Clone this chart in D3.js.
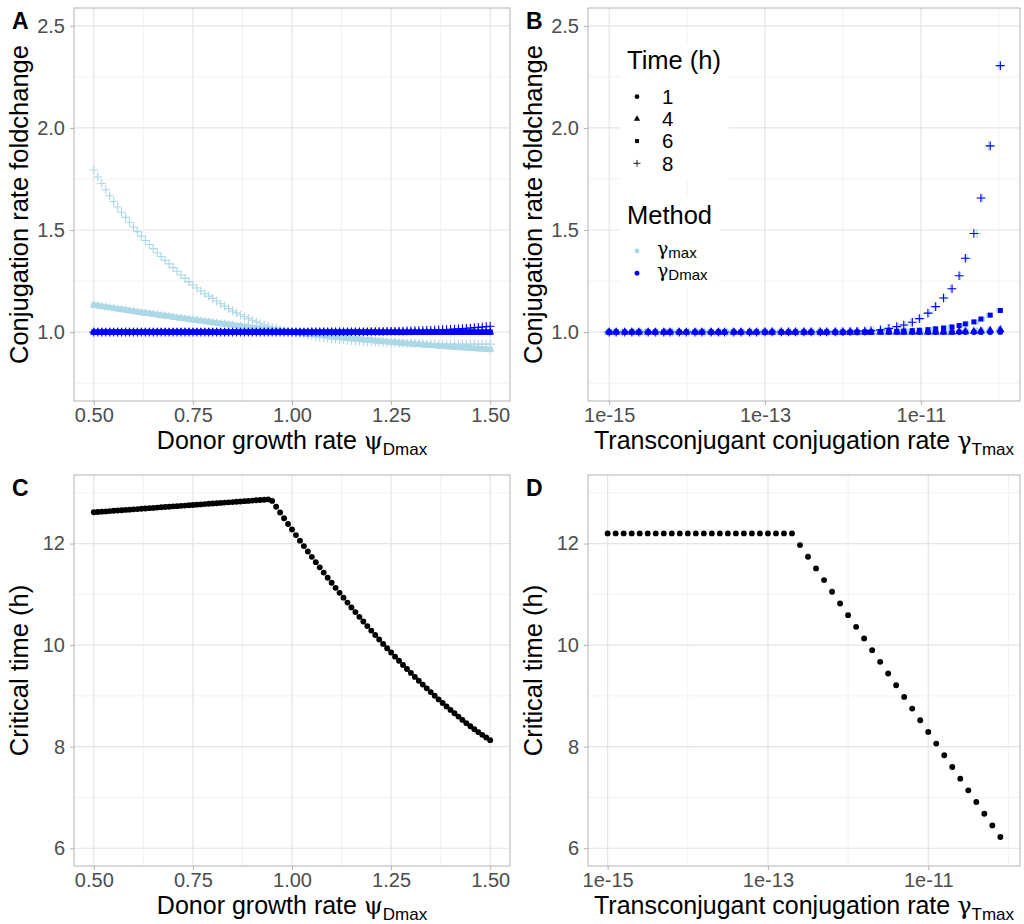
<!DOCTYPE html>
<html>
<head>
<meta charset="utf-8">
<script src="https://cdn.jsdelivr.net/npm/d3@7"></script>
<style>
  body { margin: 0; background: #fff; }
  svg { display: block; }
</style>
</head>
<body>
<svg id="fig" width="1024" height="924"></svg>
<script>
// ---------------- data ----------------
// Donor growth rate grid (panels A and C)
const psiDmax = [
  0.50,0.51,0.52,0.53,0.54,0.55,0.56,0.57,0.58,0.59,
  0.60,0.61,0.62,0.63,0.64,0.65,0.66,0.67,0.68,0.69,
  0.70,0.71,0.72,0.73,0.74,0.75,0.76,0.77,0.78,0.79,
  0.80,0.81,0.82,0.83,0.84,0.85,0.86,0.87,0.88,0.89,
  0.90,0.91,0.92,0.93,0.94,0.95,0.96,0.97,0.98,0.99,
  1.00,1.01,1.02,1.03,1.04,1.05,1.06,1.07,1.08,1.09,
  1.10,1.11,1.12,1.13,1.14,1.15,1.16,1.17,1.18,1.19,
  1.20,1.21,1.22,1.23,1.24,1.25,1.26,1.27,1.28,1.29,
  1.30,1.31,1.32,1.33,1.34,1.35,1.36,1.37,1.38,1.39,
  1.40,1.41,1.42,1.43,1.44,1.45,1.46,1.47,1.48,1.49,
  1.50];

// Panel A: foldchange, gamma_max method, early times (1, 4, 6 h coincide)
const foldA_max_early = [
  1.132,1.129,1.126,1.123,1.120,1.117,1.114,1.111,1.108,1.105,
  1.102,1.099,1.096,1.093,1.091,1.088,1.085,1.082,1.079,1.077,
  1.074,1.071,1.068,1.066,1.063,1.060,1.058,1.055,1.052,1.050,
  1.047,1.045,1.042,1.040,1.037,1.035,1.032,1.030,1.027,1.025,
  1.022,1.020,1.018,1.015,1.013,1.011,1.009,1.007,1.004,1.002,
  1.000,0.998,0.996,0.993,0.991,0.989,0.987,0.985,0.983,0.981,
  0.979,0.977,0.975,0.973,0.971,0.969,0.967,0.965,0.963,0.961,
  0.960,0.958,0.956,0.954,0.953,0.951,0.949,0.948,0.946,0.944,
  0.943,0.941,0.940,0.938,0.937,0.935,0.934,0.932,0.931,0.929,
  0.928,0.927,0.925,0.924,0.923,0.921,0.920,0.919,0.918,0.916,
  0.915];

// Panel A: foldchange, gamma_max method, 8 h
const foldA_max_t8 = [
  1.794,1.760,1.728,1.697,1.668,1.640,1.613,1.587,1.562,1.538,
  1.515,1.492,1.470,1.449,1.429,1.409,1.389,1.370,1.352,1.334,
  1.316,1.298,1.280,1.263,1.247,1.231,1.216,1.201,1.188,1.176,
  1.165,1.152,1.139,1.127,1.115,1.104,1.094,1.084,1.075,1.066,
  1.058,1.050,1.043,1.036,1.030,1.024,1.018,1.013,1.008,1.004,
  1.000,0.996,0.992,0.988,0.984,0.981,0.978,0.975,0.972,0.970,
  0.967,0.965,0.963,0.961,0.960,0.958,0.957,0.955,0.954,0.953,
  0.952,0.951,0.950,0.949,0.948,0.948,0.947,0.946,0.946,0.945,
  0.945,0.944,0.944,0.944,0.943,0.943,0.943,0.942,0.942,0.942,
  0.942,0.942,0.941,0.941,0.941,0.941,0.941,0.941,0.941,0.941,
  0.941];

// Panel A: foldchange, gamma_Dmax method, 1/4/6 h
const foldA_Dmax_early = [
  1,1,1,1,1,1,1,1,1,1, 1,1,1,1,1,1,1,1,1,1,
  1,1,1,1,1,1,1,1,1,1, 1,1,1,1,1,1,1,1,1,1,
  1,1,1,1,1,1,1,1,1,1, 1,1,1,1,1,1,1,1,1,1,
  1,1,1,1,1,1,1,1,1,1, 1,1,1,1,1,1,1,1,1,1,
  1,1,1,1,1,1,1,1,1,1, 1,1,1,1,1,1,1,1,1,1,
  1];

// Panel A: foldchange, gamma_Dmax method, 8 h
const foldA_Dmax_t8 = [
  1,1,1,1,1,1,1,1,1,1, 1,1,1,1,1,1,1,1,1,1,
  1,1,1,1,1,1,1,1,1,1, 1,1,1,1,1,1,1,1,1,1,
  1,1,1,1,1,1,1,1,1,1,
  1.000,1.000,1.000,1.000,1.000,1.001,1.001,1.001,1.001,1.001,
  1.001,1.001,1.001,1.002,1.002,1.002,1.002,1.002,1.002,1.002,
  1.003,1.003,1.003,1.003,1.004,1.004,1.004,1.005,1.005,1.006,
  1.006,1.007,1.007,1.008,1.009,1.009,1.010,1.011,1.012,1.013,
  1.014,1.015,1.016,1.017,1.019,1.020,1.022,1.023,1.025,1.027,
  1.029];

// Panel B: log10 transconjugant conjugation rate, per method
const log10GammaB_Dmax = [
  -15.00,-14.91,-14.80,-14.71,-14.62,-14.50,-14.41,-14.30,-14.22,-14.10,
  -14.01,-13.90,-13.81,-13.69,-13.60,-13.52,-13.40,-13.31,-13.20,-13.11,
  -13.00,-12.91,-12.79,-12.70,-12.61,-12.50,-12.41,-12.29,-12.21,-12.10,
  -12.00,-11.91,-11.82,-11.72,-11.64,-11.52,-11.41,-11.31,-11.22,-11.11,
  -11.02,-10.91,-10.81,-10.71,-10.60,-10.51,-10.43,-10.32,-10.23,-10.11,
  -9.98];
const log10GammaB_max = [
  -15.02,-14.93,-14.83,-14.69,-14.60,-14.53,-14.39,-14.28,-14.19,-14.12,
  -13.98,-13.88,-13.78,-13.71,-13.58,-13.49,-13.42,-13.29,-13.18,-13.09,
  -13.02,-12.89,-12.81,-12.68,-12.59,-12.52,-12.39,-12.31,-12.19,-12.08,
  -12.02,-11.89,-11.80,-11.70,-11.61,-11.50,-11.43,-11.29,-11.20,-11.13,
  -11.00,-10.89,-10.83,-10.69,-10.62,-10.49,-10.41,-10.28,-10.21,-10.13,
  -10.00];

// Panel B: foldchange per sampling time (both methods nearly identical)
const foldB_t1 = [
  1,1,1,1,1,1,1,1,1,1, 1,1,1,1,1,1,1,1,1,1,
  1,1,1,1,1,1,1,1,1,1, 1,1,1,1,1,1,1,1,1,1,
  1,1,1,1,1,1,1,1,1,1, 1.001];
const foldB_t4 = [
  1,1,1,1,1,1,1,1,1,1, 1,1,1,1,1,1,1,1,1,1,
  1,1,1,1,1,1,1,1,1,1, 1,1,1,1,1,1,1,1,1,1,
  1,1,1,1,1,
  1.002,1.003,1.004,1.006,1.008,1.012];
const foldB_t6 = [
  1,1,1,1,1,1,1,1,1,1, 1,1,1,1,1,1,1,1,1,1,
  1,1,1,1,1,1,1,1,1,1, 1,1,1,
  1.001,1.001,1.002,1.003,1.004,1.005,1.007,1.009,1.012,1.016,
  1.020,1.025,1.032,1.040,1.050,1.064,1.083,1.106];
const foldB_t8 = [
  1,1,1,1,1,1,1,1,1,1, 1,1,1,1,1,1,1,1,1,1,
  1.001,1.001,1.001,1.001,1.001,1.001,1.001,1.001,1.001,1.001,
  1.002,1.003,1.004,1.005,1.007,1.011,1.018,1.027,1.035,1.048,
  1.066,1.093,1.125,1.167,1.212,1.276,1.362,1.483,1.657,1.912,
  2.305];

// Panel C: critical time (h) vs donor growth rate
const critTimeC = [
  12.616,12.622,12.628,12.633,12.639,12.645,12.651,12.656,12.662,12.668,
  12.674,12.679,12.685,12.691,12.697,12.702,12.708,12.714,12.720,12.725,
  12.731,12.737,12.743,12.748,12.754,12.760,12.766,12.771,12.777,12.783,
  12.789,12.794,12.800,12.806,12.812,12.817,12.823,12.829,12.835,12.840,
  12.846,12.852,12.858,12.863,12.869,12.840,12.725,12.611,12.498,12.386,
  12.276,12.166,12.057,11.950,11.844,11.738,11.634,11.531,11.428,11.327,
  11.227,11.128,11.030,10.934,10.838,10.743,10.650,10.557,10.466,10.375,
  10.286,10.198,10.111,10.024,9.939,9.855,9.772,9.691,9.610,9.530,
  9.452,9.374,9.298,9.222,9.148,9.075,9.003,8.931,8.861,8.792,
  8.724,8.658,8.592,8.527,8.463,8.401,8.342,8.287,8.233,8.180,
  8.128];

// Panel D: critical time (h) vs log10 transconjugant conjugation rate
const log10GammaT = [
  -15.0,-14.9,-14.8,-14.7,-14.6,-14.5,-14.4,-14.3,-14.2,-14.1,
  -14.0,-13.9,-13.8,-13.7,-13.6,-13.5,-13.4,-13.3,-13.2,-13.1,
  -13.0,-12.9,-12.8,-12.7,-12.6,-12.5,-12.4,-12.3,-12.2,-12.1,
  -12.0,-11.9,-11.8,-11.7,-11.6,-11.5,-11.4,-11.3,-11.2,-11.1,
  -11.0,-10.9,-10.8,-10.7,-10.6,-10.5,-10.4,-10.3,-10.2,-10.1];
const critTimeD = [
  12.2,12.2,12.2,12.2,12.2,12.2,12.2,12.2,12.2,12.2,
  12.2,12.2,12.2,12.2,12.2,12.2,12.2,12.2,12.2,12.2,
  12.2,12.2,12.2,12.2,
  11.97,11.74,11.51,11.28,11.05,10.82,10.59,10.36,10.13,9.90,
  9.67,9.44,9.21,8.98,8.75,8.52,8.29,8.06,7.83,7.60,
  7.37,7.14,6.91,6.68,6.45,6.22];

// Tick values
const foldTicks = [1.0, 1.5, 2.0, 2.5];
const foldMinor = [0.75, 1.25, 1.75, 2.25];
const psiTicks = [0.50, 0.75, 1.00, 1.25, 1.50];
const psiMinor = [0.625, 0.875, 1.125, 1.375];
const gammaTicks = [1e-15, 1e-13, 1e-11];
const gammaMinor = [1e-14, 1e-12, 1e-10];
const timeTicks = [6, 8, 10, 12];
const timeMinor = [7, 9, 11, 13];

// Legend levels
const timeLevels = [1, 4, 6, 8];
const methodLevels = [
  { key: "max",  sub: "max",  color: "#ADD8E6" },
  { key: "Dmax", sub: "Dmax", color: "#0000FF" }
];

// ---------------- drawing ----------------
const FONT = '"Liberation Sans", Arial, Helvetica, sans-serif';
const GREEK = '"DejaVu Serif", "Liberation Serif", serif';
const svg = d3.select("#fig").attr("font-family", FONT);
svg.append("rect").attr("width", 1024).attr("height", 924).attr("fill", "#fff");

const colorOf = { max: "#ADD8E6", Dmax: "#0000FF" };
const shapeOf = { 1: "circle", 4: "triangle", 6: "square", 8: "plus" };
const shapePath = {
  circle: d3.symbol(d3.symbolCircle, 27)(),
  triangle: d3.symbol(d3.symbolTriangle, 28)(),
  square: d3.symbol(d3.symbolSquare, 25)(),
  plus: "M-4.3,0H4.3M0,-4.3V4.3"
};
function styleShape(sel, shape, color) {
  sel.attr("d", shapePath[shape]);
  if (shape === "plus") sel.attr("fill", "none").attr("stroke", color).attr("stroke-width", 1.1);
  else sel.attr("fill", color).attr("stroke", "none");
}

// layout of the four panels
const colL = [74, 588], colR = [510, 1020];
const rowT = [8, 475], rowB = [401, 866];

function yTitle(x, yc, label) {
  svg.append("text")
    .attr("transform", `translate(${x},${yc}) rotate(-90)`)
    .attr("text-anchor", "middle").attr("font-size", 25.5).attr("fill", "#000")
    .text(label);
}
function xTitle(xc, y, main, greek, sub) {
  const t = svg.append("text").attr("x", xc).attr("y", y)
    .attr("text-anchor", "middle").attr("font-size", 25).attr("fill", "#000");
  t.append("tspan").text(main);
  t.append("tspan").attr("font-family", GREEK).attr("font-size", 24).text(greek);
  t.append("tspan").attr("font-size", 17).attr("dy", 6).text(sub);
}
function tag(x, y, s) {
  svg.append("text").attr("x", x).attr("y", y).attr("font-size", 23)
    .attr("font-weight", "bold").attr("fill", "#000").text(s);
}

function panel(cfg) {
  const g = svg.append("g");
  const x = cfg.x, y = cfg.y;
  const [L, R] = x.range();
  const [B, T] = y.range();
  const grid = g.append("g");
  grid.selectAll(".xm").data(cfg.xMinor).join("line")
    .attr("x1", d => x(d)).attr("x2", d => x(d)).attr("y1", T).attr("y2", B)
    .attr("stroke", "#EFEFEF").attr("stroke-width", 0.8);
  grid.selectAll(".ym").data(cfg.yMinor).join("line")
    .attr("y1", d => y(d)).attr("y2", d => y(d)).attr("x1", L).attr("x2", R)
    .attr("stroke", "#EFEFEF").attr("stroke-width", 0.8);
  grid.selectAll(".xM").data(cfg.xMajor).join("line")
    .attr("x1", d => x(d)).attr("x2", d => x(d)).attr("y1", T).attr("y2", B)
    .attr("stroke", "#E5E5E5").attr("stroke-width", 1.2);
  grid.selectAll(".yM").data(cfg.yMajor).join("line")
    .attr("y1", d => y(d)).attr("y2", d => y(d)).attr("x1", L).attr("x2", R)
    .attr("stroke", "#E5E5E5").attr("stroke-width", 1.2);

  const marks = g.append("g");
  cfg.series.forEach(s => {
    const pts = s.xs.map((xv, i) => [xv, s.ys[i]]);
    marks.append("g").selectAll("path").data(pts).join("path")
      .attr("transform", d => `translate(${x(d[0])},${y(d[1])})`)
      .call(sel => styleShape(sel, s.shape, s.color));
  });

  g.append("rect").attr("x", L).attr("y", T).attr("width", R - L).attr("height", B - T)
    .attr("fill", "none").attr("stroke", "#B3B3B3").attr("stroke-width", 1);

  const ax = g.append("g").attr("transform", `translate(0,${B})`)
    .call(d3.axisBottom(x).tickValues(cfg.xMajor).tickFormat(cfg.xFormat).tickSize(4).tickPadding(2.5));
  const ay = g.append("g").attr("transform", `translate(${L},0)`)
    .call(d3.axisLeft(y).tickValues(cfg.yMajor).tickFormat(cfg.yFormat).tickSize(4).tickPadding(5));
  [ax, ay].forEach(a => {
    a.attr("font-family", FONT).attr("font-size", 20);
    a.select(".domain").remove();
    a.selectAll(".tick line").attr("stroke", "#B3B3B3");
    a.selectAll(".tick text").attr("fill", "#4D4D4D");
  });
  return g;
}

// scales with 5% padding on each side (log padding in decades)
function padLinear(lo, hi) { const p = (hi - lo) * 0.05; return [lo - p, hi + p]; }
function padLog(lo, hi) { const a = Math.log10(lo), b = Math.log10(hi), p = (b - a) * 0.05; return [Math.pow(10, a - p), Math.pow(10, b + p)]; }

const xPsiDom = padLinear(d3.min(psiDmax), d3.max(psiDmax));
const yFoldDom = padLinear(0.75, 2.5);
const yTimeDom = padLinear(6, 13);
const pow10 = e => Math.pow(10, e);
const gB = log10GammaB_Dmax.concat(log10GammaB_max).map(pow10);
const xGammaBDom = padLog(d3.min(gB), d3.max(gB));
const gD = log10GammaT.map(pow10);
const xGammaDDom = padLog(d3.min(gD), d3.max(gD));

const fmtFold = d3.format(".1f");
const fmtPsi = d3.format(".2f");
const fmtSci = d => "1e" + Math.round(Math.log10(d));
const fmtInt = d3.format("d");

// ---- Panel A ----
const seriesA = [
  { xs: psiDmax, ys: foldA_max_early, shape: shapeOf[1], color: colorOf.max },
  { xs: psiDmax, ys: foldA_max_early, shape: shapeOf[4], color: colorOf.max },
  { xs: psiDmax, ys: foldA_max_early, shape: shapeOf[6], color: colorOf.max },
  { xs: psiDmax, ys: foldA_max_t8,    shape: shapeOf[8], color: colorOf.max },
  { xs: psiDmax, ys: foldA_Dmax_early, shape: shapeOf[1], color: colorOf.Dmax },
  { xs: psiDmax, ys: foldA_Dmax_early, shape: shapeOf[4], color: colorOf.Dmax },
  { xs: psiDmax, ys: foldA_Dmax_early, shape: shapeOf[6], color: colorOf.Dmax },
  { xs: psiDmax, ys: foldA_Dmax_t8,    shape: shapeOf[8], color: colorOf.Dmax }
];
panel({
  x: d3.scaleLinear().domain(xPsiDom).range([colL[0], colR[0]]),
  y: d3.scaleLinear().domain(yFoldDom).range([rowB[0], rowT[0]]),
  xMajor: psiTicks, xMinor: psiMinor, yMajor: foldTicks, yMinor: foldMinor,
  xFormat: fmtPsi, yFormat: fmtFold, series: seriesA
});

// ---- Panel B ----
const bX_max = log10GammaB_max.map(pow10), bX_Dmax = log10GammaB_Dmax.map(pow10);
const foldB = { 1: foldB_t1, 4: foldB_t4, 6: foldB_t6, 8: foldB_t8 };
const seriesB = [];
["max", "Dmax"].forEach(m => timeLevels.forEach(t => seriesB.push({
  xs: m === "max" ? bX_max : bX_Dmax, ys: foldB[t], shape: shapeOf[t], color: colorOf[m]
})));
panel({
  x: d3.scaleLog().domain(xGammaBDom).range([colL[1], colR[1]]),
  y: d3.scaleLinear().domain(yFoldDom).range([rowB[0], rowT[0]]),
  xMajor: gammaTicks, xMinor: gammaMinor, yMajor: foldTicks, yMinor: foldMinor,
  xFormat: fmtSci, yFormat: fmtFold, series: seriesB
});

// ---- Panel C ----
panel({
  x: d3.scaleLinear().domain(xPsiDom).range([colL[0], colR[0]]),
  y: d3.scaleLinear().domain(yTimeDom).range([rowB[1], rowT[1]]),
  xMajor: psiTicks, xMinor: psiMinor, yMajor: timeTicks, yMinor: timeMinor,
  xFormat: fmtPsi, yFormat: fmtInt,
  series: [{ xs: psiDmax, ys: critTimeC, shape: "circle", color: "#000" }]
});

// ---- Panel D ----
panel({
  x: d3.scaleLog().domain(xGammaDDom).range([colL[1], colR[1]]),
  y: d3.scaleLinear().domain(yTimeDom).range([rowB[1], rowT[1]]),
  xMajor: gammaTicks, xMinor: gammaMinor, yMajor: timeTicks, yMinor: timeMinor,
  xFormat: fmtSci, yFormat: fmtInt,
  series: [{ xs: gD, ys: critTimeD, shape: "circle", color: "#000" }]
});

// ---- titles and tags ----
yTitle(28, (rowT[0] + rowB[0]) / 2, "Conjugation rate foldchange");
yTitle(542, (rowT[0] + rowB[0]) / 2, "Conjugation rate foldchange");
yTitle(28, (rowT[1] + rowB[1]) / 2, "Critical time (h)");
yTitle(542, (rowT[1] + rowB[1]) / 2, "Critical time (h)");
xTitle((colL[0] + colR[0]) / 2, rowB[0] + 47.5, "Donor growth rate ", "ψ", "Dmax");
xTitle((colL[1] + colR[1]) / 2, rowB[0] + 47.5, "Transconjugant conjugation rate ", "γ", "Tmax");
xTitle((colL[0] + colR[0]) / 2, rowB[1] + 47.5, "Donor growth rate ", "ψ", "Dmax");
xTitle((colL[1] + colR[1]) / 2, rowB[1] + 47.5, "Transconjugant conjugation rate ", "γ", "Tmax");
tag(12, 29, "A");
tag(526, 29, "B");
tag(12, 496, "C");
tag(526, 496, "D");

// ---- legends inside panel B ----
const lg = svg.append("g");
lg.append("rect").attr("x", 620).attr("y", 43).attr("width", 109).attr("height", 137).attr("fill", "#fff");
lg.append("text").attr("x", 627).attr("y", 69).attr("font-size", 25.5).attr("fill", "#000").text("Time (h)");
timeLevels.forEach((t, i) => {
  const cy = 96.7 + i * 22.2;
  lg.append("path").attr("transform", `translate(637,${cy}) scale(0.8)`)
    .call(sel => styleShape(sel, shapeOf[t], "#000"));
  lg.append("text").attr("x", 662).attr("y", cy + 7.3).attr("font-size", 20.4).attr("fill", "#000").text(t);
});
lg.append("rect").attr("x", 620).attr("y", 197).attr("width", 99).attr("height", 90).attr("fill", "#fff");
lg.append("text").attr("x", 627).attr("y", 224).attr("font-size", 25.5).attr("fill", "#000").text("Method");
methodLevels.forEach((m, i) => {
  const cy = 251 + i * 22.2;
  lg.append("path").attr("transform", `translate(637,${cy}) scale(0.85)`)
    .call(sel => styleShape(sel, "circle", m.color));
  const t = lg.append("text").attr("x", 657).attr("y", cy + 4).attr("font-size", 20.4).attr("fill", "#000");
  t.append("tspan").attr("font-family", GREEK).attr("font-size", 19).text("γ");
  t.append("tspan").attr("font-size", 15).attr("dy", 3).text(m.sub);
});
</script>
</body>
</html>
